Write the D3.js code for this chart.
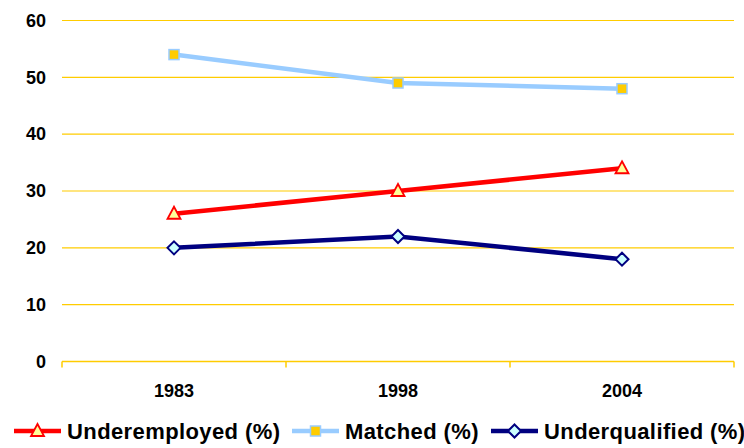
<!DOCTYPE html>
<html>
<head>
<meta charset="utf-8">
<script src="https://cdn.jsdelivr.net/npm/d3@7"></script>
<style>
	body { margin: 0; background: #fff; }
	svg { display: block; font-family: "Liberation Sans", Arial, sans-serif; font-weight: bold; }
</style>
</head>
<body>
<svg id="chart" width="744" height="448"></svg>
<script>
// chart data
var years = ["1983", "1998", "2004"];
var underemployed = [26, 30, 34];
var matched = [54, 49, 48];
var underqualified = [20, 22, 18];
var yTicks = [0, 10, 20, 30, 40, 50, 60];

var series = [
	{name: "Underemployed (%)", values: underemployed, color: "#ff0000", marker: "triangle", fill: "#ffff99", stroke: "#ff0000"},
	{name: "Matched (%)", values: matched, color: "#99ccff", marker: "square", fill: "#ffcc00", stroke: "#99ccff"},
	{name: "Underqualified (%)", values: underqualified, color: "#000080", marker: "diamond", fill: "#ccffff", stroke: "#000080"}
];

var gridColor = "#ffcc00";
var svg = d3.select("#chart");

var x = d3.scaleBand().domain(years).range([62, 734]).padding(0);
var y = d3.scaleLinear().domain([0, 60]).range([361.5, 20.5]);
function cx(i) { return x(years[i]) + x.bandwidth() / 2; }

// horizontal gridlines
svg.append("g").selectAll("line")
	.data(yTicks.slice(1))
	.enter().append("line")
	.attr("x1", 62).attr("x2", 734)
	.attr("y1", function(d) { return y(d); })
	.attr("y2", function(d) { return y(d); })
	.attr("stroke", gridColor)
	.attr("stroke-width", 1.2);

// y labels
svg.append("g").selectAll("text")
	.data(yTicks)
	.enter().append("text")
	.attr("x", 46)
	.attr("y", function(d) { return y(d); })
	.attr("dy", "0.35em")
	.attr("text-anchor", "end")
	.attr("font-size", 18)
	.text(function(d) { return d; });

// x axis line + boundary ticks
svg.append("line")
	.attr("x1", 62).attr("x2", 734)
	.attr("y1", y(0)).attr("y2", y(0))
	.attr("stroke", gridColor).attr("stroke-width", 1.5);
var bounds = years.map(function(d) { return x(d); }).concat([x.range()[1]]);
svg.append("g").selectAll("line")
	.data(bounds)
	.enter().append("line")
	.attr("x1", function(d) { return d; }).attr("x2", function(d) { return d; })
	.attr("y1", y(0)).attr("y2", y(0) + 6)
	.attr("stroke", gridColor).attr("stroke-width", 1.5);

// x labels
svg.append("g").selectAll("text")
	.data(years)
	.enter().append("text")
	.attr("x", function(d, i) { return cx(i); })
	.attr("y", 397)
	.attr("text-anchor", "middle")
	.attr("font-size", 18)
	.text(function(d) { return d; });

function drawMarker(g, s, px, py) {
	if (s.marker == "triangle") {
		g.append("path")
			.attr("d", "M" + px + "," + (py - 7) + "L" + (px + 6.5) + "," + (py + 5) + "L" + (px - 6.5) + "," + (py + 5) + "Z")
			.attr("fill", s.fill).attr("stroke", s.stroke).attr("stroke-width", 1.8);
	} else if (s.marker == "square") {
		g.append("rect")
			.attr("x", px - 5).attr("y", py - 5)
			.attr("width", 10).attr("height", 10)
			.attr("fill", s.fill).attr("stroke", s.stroke).attr("stroke-width", 1.5);
	} else {
		g.append("path")
			.attr("d", "M" + px + "," + (py - 6.5) + "L" + (px + 6.5) + "," + py + "L" + px + "," + (py + 6.5) + "L" + (px - 6.5) + "," + py + "Z")
			.attr("fill", s.fill).attr("stroke", s.stroke).attr("stroke-width", 2);
	}
}

var line = d3.line()
	.x(function(d, i) { return cx(i); })
	.y(function(d) { return y(d); });

series.forEach(function(s) {
	var g = svg.append("g");
	g.append("path")
		.attr("d", line(s.values))
		.attr("fill", "none")
		.attr("stroke", s.color)
		.attr("stroke-width", 4.5);
	s.values.forEach(function(v, i) {
		drawMarker(g, s, cx(i), y(v));
	});
});

// legend
var legendX = [14, 292, 491];
series.forEach(function(s, i) {
	var g = svg.append("g").attr("transform", "translate(" + legendX[i] + ",431)");
	g.append("line")
		.attr("x1", 0).attr("x2", 47)
		.attr("stroke", s.color).attr("stroke-width", 4.5);
	drawMarker(g, s, 23.5, 0);
	g.append("text")
		.attr("x", 53)
		.attr("y", 8)
		.attr("font-size", 22)
		.attr("letter-spacing", 0.4)
		.text(s.name);
});
</script>
</body>
</html>
